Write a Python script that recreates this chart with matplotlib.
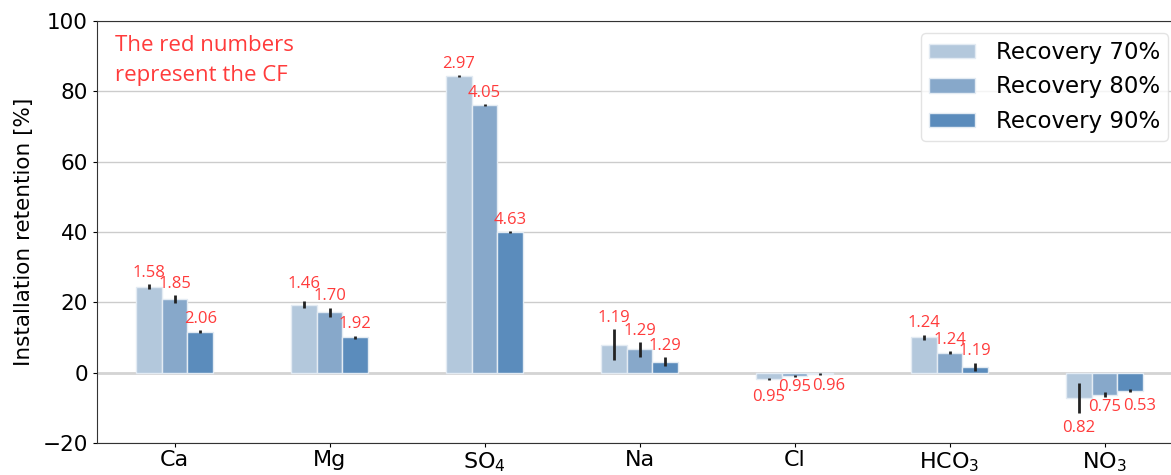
import matplotlib
matplotlib.use("Agg")
import matplotlib.pyplot as plt
import numpy as np

ions = ["Ca", "Mg", "SO$_4$", "Na", "Cl", "HCO$_3$", "NO$_3$"]
series = ["Recovery 70%", "Recovery 80%", "Recovery 90%"]

ret_70 = [24.5, 19.3, 84.4, 7.9, -1.8, 10.0, -7.3]
ret_80 = [20.9, 17.2, 76.1, 6.6, -0.9, 5.7, -6.3]
ret_90 = [11.7, 10.1, 40.0, 3.1, -0.5, 1.6, -5.1]

err_70 = [0.6, 1.0, 0.2, 4.4, 0.3, 0.85, 4.3]
err_80 = [1.1, 1.3, 0.2, 2.1, 0.3, 0.4, 0.7]
err_90 = [0.4, 0.4, 0.2, 1.3, 0.3, 1.2, 0.4]

cf_70 = ["1.58", "1.46", "2.97", "1.19", "0.95", "1.24", "0.82"]
cf_80 = ["1.85", "1.70", "4.05", "1.29", "0.95", "1.24", "0.75"]
cf_90 = ["2.06", "1.92", "4.63", "1.29", "0.96", "1.19", "0.53"]

note = "The red numbers\nrepresent the CF"
ylabel = "Installation retention [%]"

colors = ["#b3c8dc", "#87a8ca", "#5b8cbc"]
red = "#ff3b3b"

# label nudges (points) for crowded labels: (series index, ion index) -> (dx, dy)
nudge = {(0, 1): (0, 4), (0, 4): (0, -5), (2, 4): (6, 0),
         (0, 6): (0, -3), (2, 6): (7, -3)}

fig = plt.figure(figsize=(11.71, 4.75), dpi=100)
ax = fig.add_axes([97 / 1171, 1 - 443 / 475, (1182 - 97) / 1171, 422 / 475])

x = np.arange(len(ions))
width = 0.5 / 3
vals = [ret_70, ret_80, ret_90]
errs = [err_70, err_80, err_90]
cfs = [cf_70, cf_80, cf_90]

ax.set_axisbelow(True)
ax.yaxis.grid(True, color="#cccccc", linewidth=1)
ax.axhline(0, color="#d4d4d4", linewidth=2, zorder=1)

for i in range(3):
    pos = x + (i - 1) * width
    ax.bar(pos, vals[i], width=width, color=colors[i], edgecolor="#e3ebf3",
           linewidth=1, label=series[i], zorder=2)
    ax.errorbar(pos, vals[i], yerr=errs[i], fmt="none", ecolor="#222222",
                elinewidth=2, capsize=0, zorder=3)
    for j, (p, v, e, t) in enumerate(zip(pos, vals[i], errs[i], cfs[i])):
        dx, dy = nudge.get((i, j), (0, 0))
        if v >= 0:
            ax.annotate(t, (p, v + e), xytext=(dx, 2.5 + dy), textcoords="offset points",
                        ha="center", va="bottom", color=red, fontsize=12,
                        family="Open Sans")
        else:
            ax.annotate(t, (p, v - e), xytext=(dx, -1.5 + dy), textcoords="offset points",
                        ha="center", va="top", color=red, fontsize=12,
                        family="Open Sans")

ax.set_xlim(-0.5, len(ions) - 0.5)
ax.set_ylim(-20, 100)
ax.set_yticks([-20, 0, 20, 40, 60, 80, 100])
ax.set_xticks(x)
ax.set_xticklabels(ions, fontsize=16)
ax.tick_params(axis="y", labelsize=15.5, length=3)
ax.tick_params(axis="x", length=3, pad=2)
ax.set_ylabel(ylabel, fontsize=15.5, labelpad=6)
for s in ["left", "top", "bottom"]:
    ax.spines[s].set_color("#333333")
ax.spines["right"].set_visible(False)

ax.text(0.017, 0.968, note, transform=ax.transAxes, ha="left", va="top",
        color=red, fontsize=16, family="Open Sans", linespacing=1.6)

fig.legend(loc="upper right", bbox_to_anchor=(1168 / 1171, 1 - 33 / 475),
           borderaxespad=0, fontsize=16.5, frameon=True, edgecolor="#dddddd",
           handlelength=2.0, handleheight=0.6, handletextpad=0.9,
           labelspacing=0.5, borderpad=0.35)

fig.savefig("out.png", dpi=100)
